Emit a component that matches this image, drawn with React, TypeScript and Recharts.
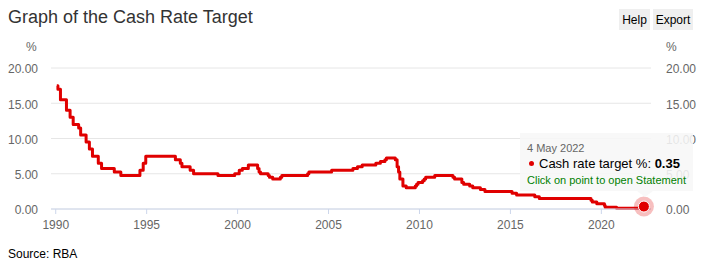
import { LineChart, Line, XAxis, YAxis, CartesianGrid, ReferenceDot } from 'recharts';

// cash rate target changes: decimal year of each decision and the new target (%)
const changeYears = [
  1990.06, 1990.12, 1990.26, 1990.59, 1990.79, 1990.96, 1991.26, 1991.37, 1991.67, 1991.85,
  1992.02, 1992.34, 1992.52, 1993.22, 1993.58, 1994.63, 1994.81, 1994.95, 1996.58, 1996.85,
  1996.94, 1997.39, 1997.58, 1998.92, 1999.84, 2000.09, 2000.26, 2000.59, 2001.1, 2001.18,
  2001.26, 2001.68, 2001.75, 2001.93, 2002.35, 2002.43, 2003.85, 2003.92, 2005.17, 2006.34,
  2006.59, 2006.85, 2007.6, 2007.85, 2008.1, 2008.18, 2008.67, 2008.77, 2008.85, 2008.92,
  2009.09, 2009.27, 2009.77, 2009.84, 2009.92, 2010.17, 2010.26, 2010.34, 2010.84, 2011.84,
  2011.93, 2012.33, 2012.43, 2012.76, 2012.93, 2013.35, 2013.6, 2015.09, 2015.34, 2016.34,
  2016.59, 2019.43, 2019.5, 2019.75, 2020.17, 2020.21, 2020.84, 2022.34,
];
const cashRates = [
  17.5, 17.0, 15.5, 14.0, 13.0, 12.0, 11.5, 10.5, 9.5, 8.5,
  7.5, 6.5, 5.75, 5.25, 4.75, 5.5, 6.5, 7.5, 7.0, 6.5,
  6.0, 5.5, 5.0, 4.75, 5.0, 5.5, 5.75, 6.25, 5.75, 5.25,
  5.0, 4.75, 4.5, 4.25, 4.5, 4.75, 5.0, 5.25, 5.5, 5.75,
  6.0, 6.25, 6.5, 6.75, 7.0, 7.25, 7.0, 6.0, 5.25, 4.25,
  3.25, 3.0, 3.25, 3.5, 3.75, 4.0, 4.25, 4.5, 4.75, 4.5,
  4.25, 3.75, 3.5, 3.25, 3.0, 2.75, 2.5, 2.25, 2.0, 1.75,
  1.5, 1.25, 1.0, 0.75, 0.5, 0.25, 0.1, 0.35,
];
const yearTicks = [1990, 1995, 2000, 2005, 2010, 2015, 2020];
const rateTicks = [0, 5, 10, 15, 20];
const lastLabel = '4 May 2022';

const data = changeYears.map((year, i) => ({ year, rate: cashRates[i] }));
const last = data[data.length - 1];

const RED = '#e00000';
const FONT = '"Liberation Sans", Arial, sans-serif';

const btn = {
  position: 'absolute' as const,
  top: 9,
  height: 21,
  lineHeight: '23px',
  fontSize: 12,
  color: '#000',
  background: '#efefef',
  textAlign: 'center' as const,
};

export default function App() {
  const tick = { fill: '#666', fontSize: 12, dy: 1 };
  const fmt = (v: number) => v.toFixed(2);

  return (
    <div style={{ position: 'absolute', left: 0, top: 0, width: 711, height: 266, background: '#fff', fontFamily: FONT }}>
      <div style={{ position: 'absolute', left: 8, top: 8, fontSize: 18, lineHeight: '18px', color: '#333' }}>
        Graph of the Cash Rate Target
      </div>
      <div style={{ ...btn, left: 619, width: 31 }}>Help</div>
      <div style={{ ...btn, left: 653, width: 40 }}>Export</div>
      <div style={{ position: 'absolute', left: 26, top: 41, fontSize: 12, lineHeight: '12px', color: '#666' }}>%</div>
      <div style={{ position: 'absolute', left: 666, top: 41, fontSize: 12, lineHeight: '12px', color: '#666' }}>%</div>

      <LineChart width={711} height={266} data={data} margin={{ top: 68, right: 0, bottom: 27, left: 0 }}>
        <CartesianGrid vertical={false} stroke="#e6e6e6" />
        <XAxis
          dataKey="year"
          type="number"
          domain={[1989.74, 2022.73]}
          allowDataOverflow
          ticks={yearTicks}
          height={30}
          axisLine={{ stroke: '#ccd6eb' }}
          tickLine={{ stroke: '#ccd6eb' }}
          tickSize={5}
          tickMargin={6}
          tick={{ fill: '#666', fontSize: 12 }}
        />
        <YAxis
          width={51}
          domain={[0, 20]}
          ticks={rateTicks}
          axisLine={false}
          tickLine={false}
          tickSize={0}
          tickMargin={13}
          tick={tick}
          tickFormatter={fmt}
        />
        <YAxis
          yAxisId="right"
          orientation="right"
          width={60}
          domain={[0, 20]}
          ticks={rateTicks}
          axisLine={false}
          tickLine={false}
          tickSize={0}
          tickMargin={15}
          tick={tick}
          tickFormatter={fmt}
        />
        {/* invisible copy so the right-hand axis gets drawn */}
        <Line
          yAxisId="right"
          type="stepAfter"
          dataKey="rate"
          stroke="none"
          dot={false}
          activeDot={false}
          legendType="none"
          isAnimationActive={false}
        />
        <Line
          type="stepAfter"
          dataKey="rate"
          stroke={RED}
          strokeWidth={3}
          strokeLinejoin="round"
          dot={false}
          activeDot={false}
          isAnimationActive={false}
        />
        <ReferenceDot x={last.year} y={last.rate} r={10} fill={RED} fillOpacity={0.25} stroke="none" />
        <ReferenceDot x={last.year} y={last.rate} r={5.5} fill={RED} stroke="#fff" strokeWidth={1} />
      </LineChart>

      <div
        style={{
          position: 'absolute',
          left: 520,
          top: 133,
          width: 173,
          height: 58,
          background: 'rgba(247,247,247,0.88)',
        }}
      >
        <div style={{ position: 'absolute', left: 7, top: 10, fontSize: 11, lineHeight: '11px', color: '#666' }}>
          {lastLabel}
        </div>
        <div style={{ position: 'absolute', left: 8.5, top: 27.5, width: 5, height: 5, borderRadius: '50%', background: RED }} />
        <div style={{ position: 'absolute', left: 19, top: 24, fontSize: 13, lineHeight: '13px', color: '#000', whiteSpace: 'nowrap' }}>
          Cash rate target %: <b>{last.rate.toFixed(2)}</b>
        </div>
        <div style={{ position: 'absolute', left: 7, top: 42, fontSize: 11, lineHeight: '11px', color: '#008000', whiteSpace: 'nowrap' }}>
          Click on point to open Statement
        </div>
      </div>
      <div
        style={{
          position: 'absolute',
          left: 637,
          top: 191,
          width: 0,
          height: 0,
          borderLeft: '8px solid transparent',
          borderRight: '8px solid transparent',
          borderTop: '6px solid rgba(247,247,247,0.88)',
        }}
      />

      <div style={{ position: 'absolute', left: 8, top: 248, fontSize: 12, lineHeight: '12px', color: '#000' }}>
        Source: RBA
      </div>
    </div>
  );
}
